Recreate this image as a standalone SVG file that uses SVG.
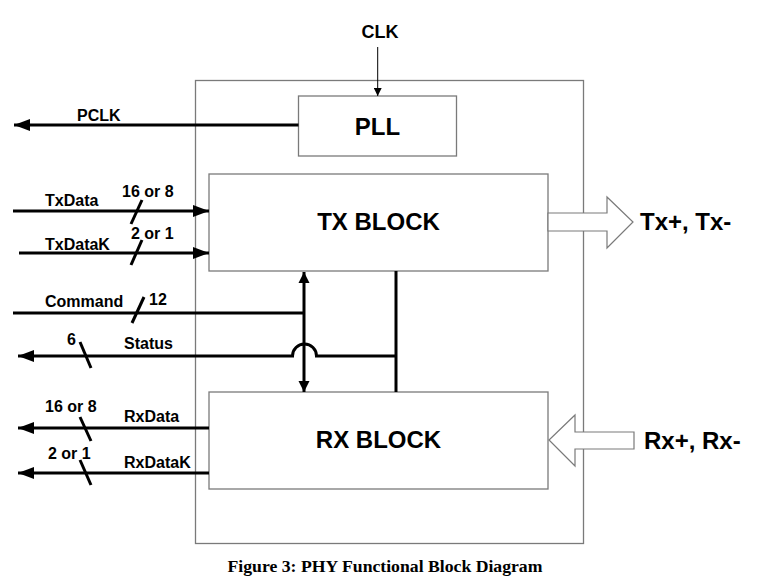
<svg xmlns="http://www.w3.org/2000/svg" width="766" height="587" viewBox="0 0 766 587">
<defs>
<style>
.box{fill:#fff;stroke:#7a7a7a;stroke-width:1.3}
.w{fill:none;stroke:#000;stroke-width:3}
.thin{fill:none;stroke:#000;stroke-width:1}
.lbl{font-family:"Liberation Sans",Arial,sans-serif;font-weight:bold;font-size:16px;fill:#000}
.big{font-family:"Liberation Sans",Arial,sans-serif;font-weight:bold;font-size:24px;fill:#000}
.cap{font-family:"Liberation Serif","Times New Roman",serif;font-weight:bold;font-size:17.7px;fill:#000}
.hollow{fill:#fff;stroke:#7a7a7a;stroke-width:1.2}
</style>
<marker id="ah" markerUnits="userSpaceOnUse" markerWidth="17" markerHeight="12" refX="16" refY="6" orient="auto-start-reverse" viewBox="0 0 17 12">
<path d="M0,0 L16,6 L0,12 z" fill="#000"/>
</marker>
<marker id="ah2" markerUnits="userSpaceOnUse" markerWidth="12" markerHeight="12" refX="11" refY="6" orient="auto-start-reverse" viewBox="0 0 12 12">
<path d="M0,0.5 L11,6 L0,11.5 z" fill="#000"/>
</marker>
<marker id="ahs" markerUnits="userSpaceOnUse" markerWidth="9" markerHeight="8" refX="8" refY="4" orient="auto" viewBox="0 0 9 8">
<path d="M0,0 L8,4 L0,8 z" fill="#000"/>
</marker>
</defs>
<rect width="766" height="587" fill="#fff"/>

<g id="phy">
<rect class="box" x="195.5" y="80.5" width="388" height="463"/>
</g>

<g id="pll">
<rect class="box" x="298.5" y="96" width="158" height="60"/>
<text class="big" x="377.5" y="135" text-anchor="middle">PLL</text>
</g>

<g id="tx_block">
<rect class="box" x="209" y="174" width="339" height="97"/>
<text class="big" x="378.5" y="230" text-anchor="middle">TX BLOCK</text>
</g>

<g id="rx_block">
<rect class="box" x="209" y="392" width="339" height="97"/>
<text class="big" x="378.5" y="448" text-anchor="middle">RX BLOCK</text>
</g>

<g id="tx_out">
<polygon class="hollow" points="548,213 607,213 607,197 633,222 607,248 607,231 548,231"/>
<text class="big" x="640" y="230">Tx+, Tx-</text>
</g>

<g id="rx_in">
<polygon class="hollow" points="634,432 575,432 575,415 549,440 575,466 575,449 634,449"/>
<text class="big" x="644" y="449">Rx+, Rx-</text>
</g>

<g id="connectors">
<!-- CLK -->
<line class="thin" x1="377.7" y1="47" x2="377.7" y2="96" marker-end="url(#ahs)"/>
<!-- PCLK -->
<line class="w" x1="298.5" y1="125" x2="14" y2="125" marker-end="url(#ah)"/>
<!-- TxData -->
<line class="w" x1="13" y1="211" x2="209" y2="211" marker-end="url(#ah)"/>
<line class="w" x1="131" y1="224" x2="142" y2="200" stroke-width="2.2"/>
<!-- TxDataK -->
<line class="w" x1="19" y1="253" x2="209" y2="253" marker-end="url(#ah)"/>
<line class="w" x1="131" y1="265" x2="142" y2="240" stroke-width="2.2"/>
<!-- Command -->
<line class="w" x1="13" y1="313" x2="304" y2="313"/>
<line class="w" x1="132" y1="323" x2="144" y2="297" stroke-width="2.2"/>
<!-- TX/RX bidirectional -->
<line class="w" x1="304" y1="272" x2="304" y2="392" marker-start="url(#ah2)" marker-end="url(#ah2)"/>
<!-- Status -->
<path class="w" d="M395,356 L316.5,356 A12,12 0 0 0 292.5,356 L18,356" marker-end="url(#ah)"/>
<line class="w" x1="80" y1="342" x2="91" y2="368" stroke-width="2.2"/>
<line class="w" x1="396" y1="271" x2="396" y2="392" stroke-width="3.5"/>
<!-- RxData -->
<line class="w" x1="209" y1="428" x2="18" y2="428" marker-end="url(#ah)"/>
<line class="w" x1="80" y1="417" x2="91" y2="441" stroke-width="2.2"/>
<!-- RxDataK -->
<line class="w" x1="209" y1="473" x2="18" y2="473" marker-end="url(#ah)"/>
<line class="w" x1="80" y1="460" x2="91" y2="485" stroke-width="2.2"/>
</g>

<g id="labels">
<text class="lbl" x="380" y="38" text-anchor="middle" font-size="18px" style="font-size:18px">CLK</text>
<text class="lbl" x="77" y="121">PCLK</text>
<text class="lbl" x="45" y="206">TxData</text>
<text class="lbl" x="122" y="197">16 or 8</text>
<text class="lbl" x="45" y="250">TxDataK</text>
<text class="lbl" x="131" y="239">2 or 1</text>
<text class="lbl" x="45" y="307">Command</text>
<text class="lbl" x="149" y="305">12</text>
<text class="lbl" x="67" y="345">6</text>
<text class="lbl" x="124" y="349">Status</text>
<text class="lbl" x="45" y="412">16 or 8</text>
<text class="lbl" x="124" y="422">RxData</text>
<text class="lbl" x="48" y="459">2 or 1</text>
<text class="lbl" x="124" y="468">RxDataK</text>
</g>

<text class="cap" x="385" y="572" text-anchor="middle">Figure 3: PHY Functional Block Diagram</text>
</svg>
